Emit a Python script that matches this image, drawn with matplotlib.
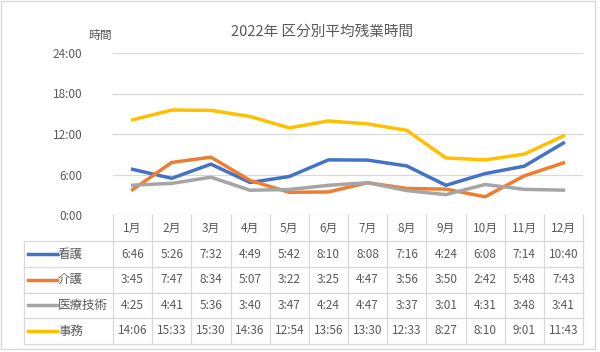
import numpy as np
import matplotlib
matplotlib.use("Agg")
import matplotlib.pyplot as plt
import matplotlib.transforms as mtransforms
from matplotlib.patches import Rectangle

plt.rcParams['font.family'] = ['Noto Sans CJK JP', 'DejaVu Sans']

# ---- data ----
months = ["1月", "2月", "3月", "4月", "5月", "6月", "7月", "8月", "9月", "10月", "11月", "12月"]
names = ["看護", "介護", "医療技術", "事務"]
kango = ["6:46", "5:26", "7:32", "4:49", "5:42", "8:10", "8:08", "7:16", "4:24", "6:08", "7:14", "10:40"]
kaigo = ["3:45", "7:47", "8:34", "5:07", "3:22", "3:25", "4:47", "3:56", "3:50", "2:42", "5:48", "7:43"]
iryo = ["4:25", "4:41", "5:36", "3:40", "3:47", "4:24", "4:47", "3:37", "3:01", "4:31", "3:48", "3:41"]
jimu = ["14:06", "15:33", "15:30", "14:36", "12:54", "13:56", "13:30", "12:33", "8:27", "8:10", "9:01", "11:43"]
series = [kango, kaigo, iryo, jimu]
colors = ["#4472C4", "#ED7D31", "#A5A5A5", "#FFC000"]
yticks = [0, 6, 12, 18, 24]


def to_hours(s):
    h, m = s.split(":")
    return int(h) + int(m) / 60.0


W, H = 600, 352
fig = plt.figure(figsize=(W / 100, H / 100), dpi=100)

# outer chart border
fig.patches.append(Rectangle((1 / W, 3 / H), 594 / W, 348 / H, transform=fig.transFigure,
                             fill=False, edgecolor="#D9D9D9", lw=1.0))

# plot area in pixel units
L, R, T, B = 113, 583, 53, 215
ax = fig.add_axes([L / W, 1 - B / H, (R - L) / W, (B - T) / H])

x = np.arange(len(months))
for vals, c in zip(series, colors):
    ax.plot(x, [to_hours(v) for v in vals], color=c, lw=2.5, solid_joinstyle="round", zorder=3)

ax.set_xlim(-0.5, len(months) - 0.5)
ax.set_ylim(0, 24)
ax.set_yticks(yticks)
ax.set_yticklabels([f"{t}:00" for t in yticks], color="#595959", fontsize=8.5)
ax.tick_params(axis="y", length=0, pad=22)
ax.set_xticks([])
for s in ax.spines.values():
    s.set_visible(False)
ax.grid(axis="y", color="#D9D9D9", lw=0.9)
ax.set_axisbelow(True)

fig.text(322 / W, 1 - 32 / H, "2022年 区分別平均残業時間", ha="center", va="center",
         fontsize=10.5, color="#595959")
fig.text(100 / W, 1 - 35 / H, "時間", ha="center", va="center", fontsize=8.5, color="#595959")


# ---- data table below the plot ----
def ay(py):
    return (B - py) / (B - T)


def axx(px):
    return (px - L) / (R - L)


row_edges = [215, 241, 267, 292.5, 318, 344]
blend = mtransforms.blended_transform_factory(ax.transData, ax.transAxes)
gc = "#D9D9D9"

# vertical cell lines
for k in range(len(months) + 1):
    ax.plot([k - 0.5, k - 0.5], [ay(row_edges[0]), ay(row_edges[-1])], color=gc, lw=0.9,
            transform=blend, clip_on=False)
# horizontal lines
for py in row_edges[1:]:
    ax.plot([axx(24), 1], [ay(py), ay(py)], color=gc, lw=0.9, transform=ax.transAxes, clip_on=False)
ax.plot([axx(24), axx(24)], [ay(row_edges[1]), ay(row_edges[-1])], color=gc, lw=0.9,
        transform=ax.transAxes, clip_on=False)

# header
for i, m in enumerate(months):
    ax.text(i, ay((row_edges[0] + row_edges[1]) / 2), m, ha="center", va="center",
            fontsize=8.5, color="#595959", transform=blend, clip_on=False)

# rows
for r, (nm, vals, c) in enumerate(zip(names, series, colors)):
    yc = ay((row_edges[r + 1] + row_edges[r + 2]) / 2)
    ax.plot([axx(28), axx(57)], [yc, yc], color=c, lw=2.5, transform=ax.transAxes, clip_on=False)
    ax.text(axx(58), yc, nm, ha="left", va="center", fontsize=9, color="#595959",
            transform=ax.transAxes, clip_on=False)
    for i, v in enumerate(vals):
        ax.text(i, yc, v, ha="center", va="center", fontsize=8.5, color="#595959",
                transform=blend, clip_on=False)

fig.savefig("out.png", dpi=100)
